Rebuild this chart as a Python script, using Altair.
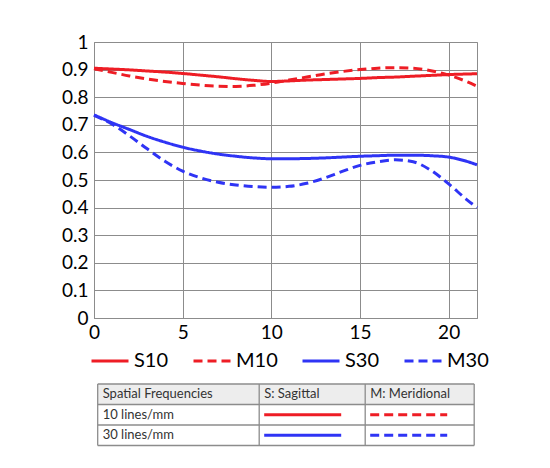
import altair as alt
import pandas as pd

# ---- data ----
positions = [0, 1, 2, 3, 4, 5, 6, 7, 8, 9, 10, 11, 12, 13, 14, 15, 16, 17, 18, 19, 20, 21, 21.6]
s10 = [0.905, 0.902, 0.899, 0.895, 0.891, 0.886, 0.880, 0.874, 0.867, 0.861, 0.857, 0.859,
       0.862, 0.864, 0.866, 0.868, 0.871, 0.873, 0.876, 0.879, 0.882, 0.884, 0.885]
m10 = [0.903, 0.890, 0.877, 0.866, 0.857, 0.850, 0.844, 0.840, 0.839, 0.843, 0.851, 0.862,
       0.873, 0.884, 0.893, 0.900, 0.905, 0.907, 0.905, 0.896, 0.880, 0.857, 0.840]
s30 = [0.736, 0.708, 0.683, 0.658, 0.637, 0.619, 0.605, 0.594, 0.586, 0.580, 0.577, 0.577,
       0.578, 0.580, 0.583, 0.586, 0.588, 0.590, 0.590, 0.588, 0.583, 0.568, 0.555]
m30 = [0.734, 0.703, 0.660, 0.613, 0.568, 0.532, 0.508, 0.492, 0.482, 0.476, 0.474, 0.477,
       0.488, 0.507, 0.531, 0.553, 0.566, 0.573, 0.566, 0.535, 0.486, 0.430, 0.400]

series_names = ["S10", "M10", "S30", "M30"]
series_colors = ["#ee1d25", "#ee1d25", "#2f34f5", "#2f34f5"]
series_dash = [[1, 0], [9, 5], [1, 0], [9, 5]]

x_ticks = [0, 5, 10, 15, 20]
y_ticks = [0, 0.1, 0.2, 0.3, 0.4, 0.5, 0.6, 0.7, 0.8, 0.9, 1]

table_header = ["Spatial Frequencies", "S: Sagittal", "M: Meridional"]
table_rows = ["10 lines/mm", "30 lines/mm"]
table_col_edges = [0, 161.5, 267.5, 376.5]

FONT = "Lato"
GRID = "#8c8c8c"

rows = []
for name, vals in zip(series_names, [s10, m10, s30, m30]):
    for p, v in zip(positions, vals):
        rows.append({"pos": p, "mtf": v, "series": name})
df = pd.DataFrame(rows)

main = alt.Chart(df).mark_line(strokeWidth=3, interpolate="monotone").encode(
    x=alt.X("pos:Q",
            scale=alt.Scale(domain=[0, 21.6], nice=False, zero=False),
            axis=alt.Axis(values=x_ticks, title=None, labelFontSize=19, labelFont=FONT,
                          labelColor="#000", ticks=False, labelPadding=5,
                          domainColor=GRID, gridColor=GRID, gridOpacity=1, labelFlush=False)),
    y=alt.Y("mtf:Q",
            scale=alt.Scale(domain=[0, 1], nice=False),
            axis=alt.Axis(values=y_ticks, title=None, labelFontSize=19, labelFont=FONT,
                          labelColor="#000", ticks=False, labelPadding=6, domain=False,
                          gridColor=GRID, gridOpacity=1, labelFlush=False,
                          labelExpr="round(datum.value*10)/10 + ''")),
    color=alt.Color("series:N",
                    scale=alt.Scale(domain=series_names, range=series_colors),
                    legend=alt.Legend(title=None, orient="none", direction="horizontal",
                                      legendX=-4, legendY=299,
                                      symbolType="stroke", symbolSize=1369, symbolStrokeWidth=3,
                                      labelFontSize=20, labelFont=FONT, labelColor="#000",
                                      columnPadding=18, labelOffset=4, padding=0)),
    strokeDash=alt.StrokeDash("series:N",
                              scale=alt.Scale(domain=series_names, range=series_dash),
                              legend=alt.Legend(title=None)),
    detail="series:N",
).properties(width=383, height=276)

# ---- table below the chart ----
x_table = alt.Scale(domain=[-3.7, table_col_edges[-1]], nice=False, zero=False)
hdr = pd.DataFrame([{"x0": table_col_edges[0], "x1": table_col_edges[-1], "y0": 0, "y1": 1}])
header_fill = alt.Chart(hdr).mark_rect(color="#ededed").encode(
    x=alt.X("x0:Q", scale=x_table, axis=None),
    x2="x1:Q",
    y=alt.Y("y0:Q", scale=alt.Scale(domain=[0, 3], reverse=True, nice=False), axis=None),
    y2="y1:Q",
)

hlines = pd.DataFrame([{"x0": table_col_edges[0], "x1": table_col_edges[-1], "y": r} for r in range(4)])
vlines = pd.DataFrame([{"x": e, "y0": 0, "y1": 3} for e in table_col_edges])
h_rules = alt.Chart(hlines).mark_rule(color=GRID, strokeWidth=1.3).encode(x="x0:Q", x2="x1:Q", y="y:Q")
v_rules = alt.Chart(vlines).mark_rule(color=GRID, strokeWidth=1.3).encode(x="x:Q", y="y0:Q", y2="y1:Q")

texts = []
for i, t in enumerate(table_header):
    texts.append({"x": table_col_edges[i] + 5, "y": 0.5, "t": t})
for j, t in enumerate(table_rows):
    texts.append({"x": table_col_edges[0] + 5, "y": 1.5 + j, "t": t})
table_text = alt.Chart(pd.DataFrame(texts)).mark_text(
    align="left", baseline="middle", fontSize=13, font=FONT, color="#333"
).encode(x="x:Q", y="y:Q", text="t:N")

samples = []
for j, (sn, mn) in enumerate([("S10", "M10"), ("S30", "M30")]):
    for k, name in enumerate([sn, mn]):
        samples.append({"x0": table_col_edges[1 + k] + 5, "x1": table_col_edges[1 + k] + 82,
                        "y": 1.5 + j, "series": name})
sample_lines = alt.Chart(pd.DataFrame(samples)).mark_rule(strokeWidth=3).encode(
    x="x0:Q", x2="x1:Q", y="y:Q",
    color=alt.Color("series:N", scale=alt.Scale(domain=series_names, range=series_colors), legend=None),
    strokeDash=alt.StrokeDash("series:N", scale=alt.Scale(domain=series_names, range=series_dash), legend=None),
)

table = alt.layer(header_fill, h_rules, v_rules, table_text, sample_lines).properties(
    width=table_col_edges[-1] + 3.7, height=61.5, view=alt.ViewConfig(stroke="transparent")
)

chart = alt.vconcat(main, table, spacing=10).resolve_scale(
    color="independent", strokeDash="independent"
).resolve_legend(color="independent", strokeDash="independent").properties(
    padding={"left": 52, "top": 24, "right": 5, "bottom": 5}
).configure_view(stroke=GRID, strokeWidth=1)

chart.save("out.html", embed_options={"renderer": "svg", "actions": False})
